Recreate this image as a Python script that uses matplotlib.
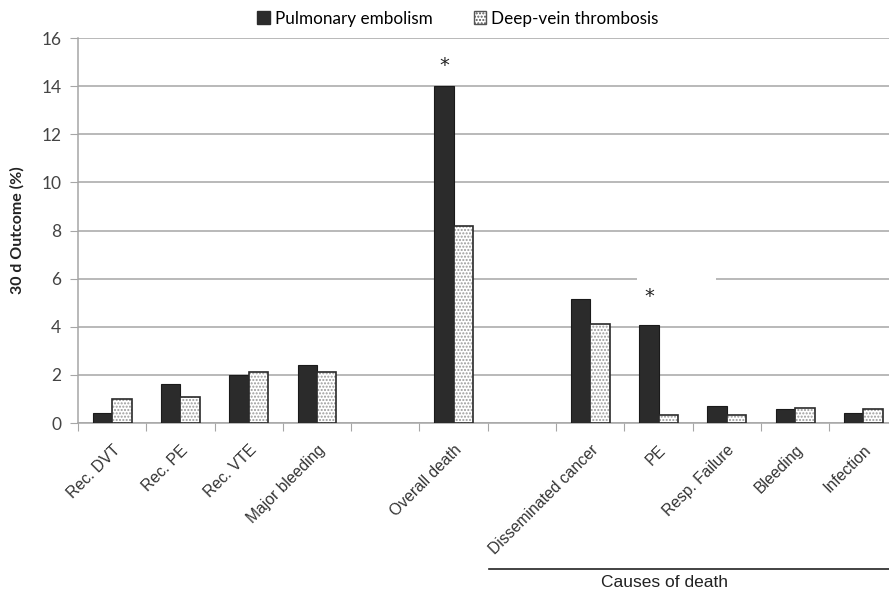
import numpy as np
import matplotlib.pyplot as plt
from matplotlib.patches import Rectangle
from matplotlib.lines import Line2D

# chart values (blank slots are gaps between groups)
categories = ['Rec. DVT', 'Rec. PE', 'Rec. VTE', 'Major bleeding', '',
              'Overall death', '', 'Disseminated cancer', 'PE',
              'Resp. Failure', 'Bleeding', 'Infection']
pe_values = [0.42, 1.62, 2.0, 2.41, np.nan, 14.0, np.nan, 5.17, 4.08, 0.72, 0.59, 0.4]
dvt_values = [1.02, 1.1, 2.12, 2.12, np.nan, 8.2, np.nan, 4.1, 0.33, 0.34, 0.61, 0.6]
y_ticks = [0, 2, 4, 6, 8, 10, 12, 14, 16]
star_at = ['Overall death', 'PE']
star_gap = [0.45, 0.8]

fig = plt.figure(figsize=(8.89, 5.95), dpi=100)
ax = fig.add_axes([0.0877, 0.289, 0.922, 0.647])

x = np.arange(len(categories))
w = 0.285
dark = '#2b2b2b'

ax.bar(x - w / 2, pe_values, w, color=dark, edgecolor='#1a1a1a', lw=0.8, zorder=3)
ax.bar(x + w / 2, dvt_values, w, color='white', edgecolor='#9a9a9a', hatch='.....',
       lw=0, zorder=3)
ax.bar(x + w / 2, dvt_values, w, fill=False, edgecolor='#2a2a2a', lw=1.2, zorder=4)

for c, g in zip(star_at, star_gap):
    i = categories.index(c)
    ax.text(i - w / 2, pe_values[i] + g, '*', ha='center', va='bottom',
            fontsize=14, color='#222222', zorder=5)

# the original has a blank patch across the 6 % gridline above "PE"
ax.add_patch(Rectangle((7.68, 5.8), 1.16, 0.4, facecolor='white', edgecolor='none', zorder=2))

ax.set_xlim(-0.5, len(categories) - 0.5)
ax.set_ylim(0, 16)
ax.set_yticks(y_ticks)
ax.set_yticklabels([str(v) for v in y_ticks], family='Lato', fontsize=12.5, color='#444444')
ax.yaxis.grid(True, color='#a6a6a6', lw=1.1, zorder=0)
ax.set_axisbelow(True)

ax.set_xticks(np.arange(-0.5, len(categories), 1.0))
ax.set_xticklabels([])
ax.set_xticks(x, minor=True)
ax.set_xticklabels(categories, minor=True, rotation=45, ha='right', rotation_mode='anchor',
                   family='Liberation Sans', fontsize=11.3, color='#333333')
ax.tick_params(axis='x', which='major', length=6, color='#a6a6a6', direction='out')
ax.tick_params(axis='x', which='minor', length=0, pad=14)
ax.tick_params(axis='y', length=6, color='#a6a6a6', direction='out', pad=6)

for s in ['top', 'right']:
    ax.spines[s].set_visible(False)
for s in ['left', 'bottom']:
    ax.spines[s].set_color('#a6a6a6')
    ax.spines[s].set_linewidth(1.1)

ax.set_ylabel('30 d Outcome (%)', family='Lato', fontweight='bold', fontsize=11.5,
              color='#222222', labelpad=12)

handles = [Rectangle((0, 0), 1, 1, facecolor=dark, edgecolor=dark),
           Rectangle((0, 0), 1, 1, facecolor='white', edgecolor='#555555', hatch='.....')]
fig.legend(handles, ['Pulmonary embolism', 'Deep-vein thrombosis'], loc='upper center',
           bbox_to_anchor=(0.515, 1.008), ncol=2, frameon=False, handlelength=0.75,
           handleheight=0.75, handletextpad=0.3, columnspacing=2.4,
           prop={'family': 'Lato', 'size': 12.3})

fig.add_artist(Line2D([0.55, 1.0], [0.0437, 0.0437], color='#222222', lw=1.2,
                      transform=fig.transFigure))
fig.text(0.748, 0.021, 'Causes of death', ha='center', va='center',
         family='Liberation Sans', fontsize=12.5, color='#222222')

fig.savefig('out.png', dpi=100)
